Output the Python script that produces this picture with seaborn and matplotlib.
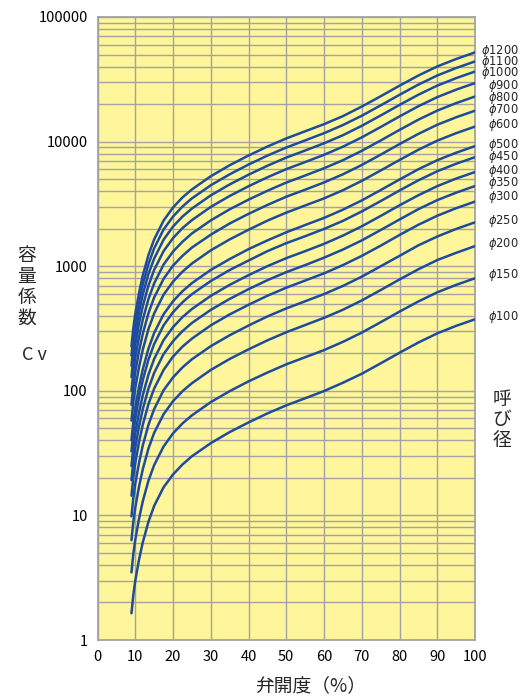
import matplotlib
matplotlib.use("Agg")
import pandas as pd
import seaborn as sns
import matplotlib.pyplot as plt
from matplotlib.ticker import LogLocator, NullFormatter

# valve opening (%) where each curve was read
opening = [9.0, 9.5, 10, 11, 12, 13.5, 15, 17.5, 20, 22.5, 25, 30, 35, 40, 45,
           50, 55, 60, 65, 70, 75, 80, 85, 90, 95, 100]

# Cv, one list per nominal diameter
cv_1200 = [227, 321, 413, 611, 843, 1230, 1640, 2320, 2960, 3560, 4130, 5270, 6460,
           7730, 9120, 10600, 12100, 13800, 16000, 19100, 23100, 28100, 33900, 40100, 46000, 52000]
cv_1100 = [192, 271, 349, 517, 714, 1040, 1390, 1970, 2500, 3010, 3500, 4460, 5460,
           6540, 7720, 8960, 10220, 11680, 13570, 16120, 19520, 23740, 28670, 33920, 38950, 44000]
cv_1000 = [159, 225, 290, 429, 592, 866, 1150, 1630, 2080, 2500, 2900, 3700, 4530,
           5420, 6400, 7440, 8480, 9690, 11250, 13380, 16190, 19690, 23780, 28140, 32310, 36500]
cv_900 = [129, 182, 234, 347, 478, 700, 933, 1320, 1680, 2020, 2340, 2990, 3660,
          4380, 5170, 6010, 6850, 7830, 9100, 10810, 13090, 15920, 19220, 22740, 26110, 29500]
cv_800 = [100, 142, 183, 270, 373, 545, 727, 1030, 1310, 1570, 1830, 2330, 2860,
          3420, 4030, 4690, 5340, 6110, 7090, 8430, 10200, 12410, 14990, 17730, 20360, 23000]
cv_700 = [77.3, 109, 141, 208, 287, 420, 560, 791, 1010, 1210, 1410, 1790, 2200,
          2630, 3100, 3610, 4110, 4700, 5460, 6490, 7850, 9550, 11530, 13650, 15670, 17700]
cv_600 = [57.6, 81.4, 105, 155, 214, 313, 417, 590, 751, 903, 1050, 1340, 1640,
          1960, 2320, 2690, 3070, 3500, 4070, 4840, 5860, 7120, 8600, 10180, 11680, 13200]
cv_500 = [40.2, 56.7, 73.1, 108, 149, 218, 291, 411, 523, 629, 731, 933, 1140,
          1370, 1610, 1870, 2140, 2440, 2840, 3370, 4080, 4960, 6000, 7090, 8140, 9200]
cv_450 = [32.7, 46.2, 59.6, 88.1, 122, 178, 237, 335, 427, 513, 596, 760, 931,
          1110, 1320, 1530, 1740, 1990, 2310, 2750, 3330, 4050, 4890, 5780, 6640, 7500]
cv_400 = [24.9, 35.1, 45.3, 67.0, 92.4, 135, 180, 255, 324, 390, 453, 578, 708,
          847, 1000, 1160, 1320, 1510, 1760, 2090, 2530, 3080, 3710, 4390, 5050, 5700]
cv_350 = [19.2, 27.1, 34.9, 51.7, 71.4, 104, 139, 197, 250, 301, 350, 446, 546,
          654, 772, 896, 1020, 1170, 1360, 1610, 1950, 2370, 2870, 3390, 3890, 4400]
cv_300 = [14.4, 20.3, 26.2, 38.8, 53.5, 78.3, 104, 147, 188, 226, 262, 335, 410,
          490, 579, 672, 767, 876, 1020, 1210, 1460, 1780, 2150, 2540, 2920, 3300]
cv_250 = [9.82, 13.9, 17.9, 26.4, 36.5, 53.4, 71.2, 101, 128, 154, 179, 228, 279,
          334, 395, 458, 523, 597, 694, 824, 998, 1210, 1470, 1730, 1990, 2250]
cv_200 = [6.33, 8.94, 11.5, 17.0, 23.5, 34.4, 45.9, 64.8, 82.5, 99.2, 115, 147, 180,
          215, 254, 295, 337, 385, 447, 531, 643, 782, 945, 1120, 1280, 1450]
cv_150 = [3.49, 4.93, 6.35, 9.40, 13.0, 19.0, 25.3, 35.7, 45.5, 54.7, 63.5, 81.1, 99.3,
          119, 140, 163, 186, 212, 247, 293, 355, 432, 521, 617, 708, 800]
cv_100 = [1.64, 2.31, 2.98, 4.41, 6.08, 8.89, 11.9, 16.8, 21.3, 25.6, 29.8, 38.0, 46.6,
          55.7, 65.8, 76.4, 87.1, 99.5, 116, 137, 166, 202, 244, 289, 332, 375]

diameters = [1200, 1100, 1000, 900, 800, 700, 600, 500, 450, 400, 350, 300, 250, 200, 150, 100]
curves = [cv_1200, cv_1100, cv_1000, cv_900, cv_800, cv_700, cv_600, cv_500,
          cv_450, cv_400, cv_350, cv_300, cv_250, cv_200, cv_150, cv_100]
# Cv level at which each diameter label sits on the right margin
label_cv = [53700, 43800, 35300, 28100, 22300, 17900, 13600, 9390,
            7480, 5840, 4630, 3570, 2320, 1510, 850, 389]

x_ticks = [0, 10, 20, 30, 40, 50, 60, 70, 80, 90, 100]
y_ticks = [1, 10, 100, 1000, 10000, 100000]
y_tick_labels = ["1", "10", "100", "1000", "10000", "100000"]

BG = "#FFF59A"
GRID = "#A3A3A3"
BLUE = "#1E4C9C"


def build_frame():
    '''
    Long-form table: one row per (diameter, opening) point
    '''
    rows = []
    for d, vals in zip(diameters, curves):
        for x, v in zip(opening, vals):
            rows.append({"opening": x, "cv": v, "size": d})
    return pd.DataFrame(rows)


def main():
    df = build_frame()
    sns.set_theme(style="white")
    plt.rcParams["font.family"] = ["Noto Sans CJK JP", "DejaVu Sans"]
    plt.rcParams["mathtext.fontset"] = "dejavusans"

    fig = plt.figure(figsize=(5.23, 7.0), dpi=100)
    ax = fig.add_axes([97.5 / 523, 1 - 640 / 700, 377.5 / 523, 623 / 700])
    ax.set_facecolor(BG)

    sns.lineplot(data=df, x="opening", y="cv", hue="size",
                 palette=[BLUE] * len(diameters), legend=False,
                 estimator=None, linewidth=1.8, ax=ax, zorder=3)

    ax.set_yscale("log")
    ax.set_xlim(0, 100)
    ax.set_ylim(1, 100000)
    ax.set_xticks(x_ticks)
    ax.set_xticklabels([str(t) for t in x_ticks])
    ax.set_yticks(y_ticks)
    ax.set_yticklabels(y_tick_labels)
    ax.yaxis.set_minor_locator(LogLocator(base=10, subs=range(2, 10)))
    ax.yaxis.set_minor_formatter(NullFormatter())
    ax.tick_params(which="both", length=0, labelsize=10.5, colors="black")
    ax.tick_params(axis="x", pad=7)
    ax.tick_params(axis="y", pad=7)
    ax.grid(True, which="both", color=GRID, linewidth=1.0, zorder=1)
    ax.set_axisbelow(True)
    for s in ax.spines.values():
        s.set_color(GRID)
        s.set_linewidth(1.3)
    ax.set_xlabel("")
    ax.set_ylabel("")

    # diameter labels on the right margin
    for d, pos in zip(diameters, label_cv):
        ax.annotate(r"$\phi$" + f"{d}", xy=(1.1166, pos),
                    xycoords=("axes fraction", "data"),
                    ha="right", va="center", fontsize=8.3,
                    family=["Liberation Sans Narrow", "DejaVu Sans"],
                    annotation_clip=False)

    fig.text(311 / 523, 1 - 686 / 700, "弁開度（%）", ha="center", va="center",
             fontsize=13.5)
    fig.text(27 / 523, 1 - 287 / 700, "容\n量\n係\n数", ha="center", va="center",
             fontsize=13.5, linespacing=0.98)
    fig.text(34 / 523, 1 - 355 / 700, "C v", ha="center", va="center",
             fontsize=13)
    fig.text(502 / 523, 1 - 420 / 700, "呼\nび\n径", ha="center", va="center",
             fontsize=13.5, linespacing=0.98)

    fig.savefig("out.png", dpi=100, facecolor="white")


if __name__ == "__main__":
    main()
